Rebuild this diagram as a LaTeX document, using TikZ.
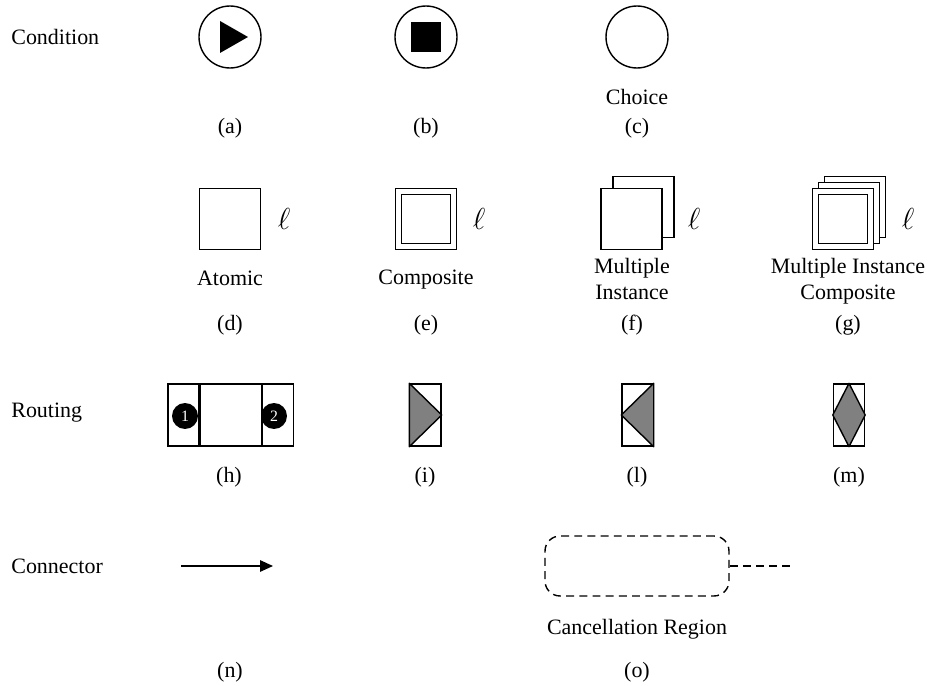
\documentclass[tikz,border=0pt]{standalone}
\usepackage{fontspec}
\setmainfont{Liberation Serif}
\usetikzlibrary{arrows.meta,positioning,calc}
\definecolor{gateGray}{RGB}{128,128,128}

\begin{document}
\begin{tikzpicture}[x=0.02cm, y=-0.02cm,
  txt/.style={font=\fontsize{12.5}{15}\selectfont, inner sep=0pt, align=center},
  cond/.style={circle, draw, line width=0.8pt, minimum size=1.24cm, inner sep=0pt},
  task/.style={rectangle, draw, fill=white, line width=0.8pt,
               minimum size=1.22cm, inner sep=0pt},
  core/.style={rectangle, draw, line width=0.8pt, minimum size=0.98cm, inner sep=0pt},
  gate/.style={rectangle, draw, line width=0.8pt,
               minimum width=0.62cm, minimum height=1.24cm, inner sep=0pt},
  tri/.style={draw, fill=gateGray, line width=0.8pt, line join=round},
  num/.style={circle, fill=black, text=white, minimum size=0.52cm,
              inner sep=0pt, font=\fontsize{9}{10}\selectfont},
  lab/.style={inner sep=0pt, font=\fontsize{17}{18}\selectfont},
  conn/.style={-{Triangle[length=2.6mm,width=2.3mm]}, line width=0.8pt},
  region/.style={draw, line width=0.8pt, dash pattern=on 4.5pt off 3pt,
                 rounded corners=0.3cm, minimum width=3.68cm, minimum height=1.2cm}
]
  \useasboundingbox (0,0) rectangle (931,686);

  % Row headers
  \node[txt, anchor=west] (hCond)  at (11,37)  {Condition};
  \node[txt, anchor=west] (hRoute) at (11,413) {Routing};
  \node[txt, anchor=west] (hConn)  at (11,566) {Connector};

  % Conditions
  \node[cond] (condA) at (230,37) {};
  \fill (condA.center) ++(-10,-16) -- ++(28,16) -- ++(-28,16) -- cycle;
  \node[cond] (condB) at (426,37) {};
  \node[fill, minimum size=0.62cm, inner sep=0pt] (stopB) at (condB) {};
  \node[cond] (condC) at (637,37) {};
  \node[txt] (choice) at (637,97) {Choice};

  % Tasks
  \node[task] (taskD) at (230,219) {};
  \node[task] (taskE) at (426,219) {};
  \node[core] (coreE) at (taskE) {};
  \node[task] (taskF2) at (643.5,207) {};
  \node[task] (taskF)  at (631.5,219) {};
  \node[task] (taskG3) at (855,207) {};
  \node[task] (taskG2) at (849,213) {};
  \node[task] (taskG)  at (843,219) {};
  \node[core] (coreG) at (taskG) {};
  \foreach \n/\x in {D/284, E/479, F/694, G/908}
    \node[lab] (ell\n) at (\x,219) {$\ell$};
  \node[txt] (atomic) at (230,278) {Atomic};
  \node[txt, anchor=base] (compo) at (426,285) {Composite};
  \node[txt] (multi)  at (632,279) {Multiple\\Instance};
  \node[txt] (multiC) at (848,281) {Multiple Instance\\Composite};

  % Routing
  \node[gate] (routeL) at (183.5,415) {};
  \node[gate, minimum width=1.22cm, right=0pt of routeL] (routeM) {};
  \node[gate, right=0pt of routeM] (routeR) {};
  \node[num] (numL) at (185,416) {1};
  \node[num] (numR) at (274,416) {2};
  \node[gate] (gateI) at (425.5,415) {};
  \draw[tri] (gateI.north west) -- (gateI.east) -- (gateI.south west) -- cycle;
  \node[gate] (gateL) at (637.5,415) {};
  \draw[tri] (gateL.north east) -- (gateL.west) -- (gateL.south east) -- cycle;
  \node[gate] (gateM) at (849,415) {};
  \draw[tri] (gateM.north) -- (gateM.east) -- (gateM.south) -- (gateM.west) -- cycle;

  % Connector and cancellation region
  \coordinate (arrS) at (181,566);
  \coordinate (arrE) at (273,566);
  \draw[conn] (arrS) -- (arrE);
  \node[region] (cancel) at (637,566) {};
  \coordinate (cancelEnd) at (790,566);
  \draw[line width=0.8pt, dash pattern=on 4.5pt off 3pt] (cancel.east) -- (cancelEnd);
  \node[txt, anchor=base] (cancelTxt) at (637,634) {Cancellation Region};

  % Captions
  \foreach \n/\x/\y in {a/230/128, b/426/128, c/637/128,
                        d/230/325, e/426/325, f/632/325, g/848/325,
                        h/229/477, i/425/477, l/637/477, m/849/477,
                        n/230/672, o/637/672}
    \node[txt] (cap\n) at (\x,\y) {(\n)};
\end{tikzpicture}
\end{document}
